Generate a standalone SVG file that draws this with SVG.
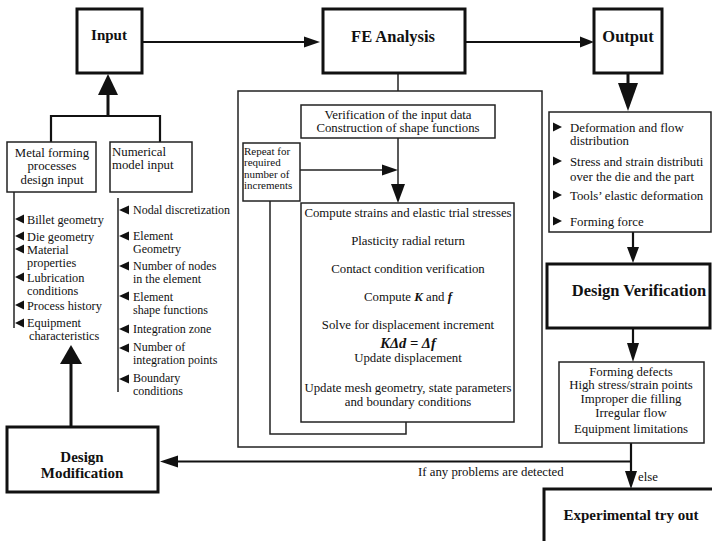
<svg xmlns="http://www.w3.org/2000/svg" width="712" height="541" viewBox="0 0 712 541">
<style>
text{font-family:"Liberation Serif","Times New Roman",serif;font-size:12.8px;fill:#111}
.t{font-weight:bold;font-size:15px}
.c{text-anchor:middle}
.bold{fill:#fff;stroke:#111;stroke-width:3}
.box{fill:#fff;stroke:#222;stroke-width:1.5}
.ln{fill:none;stroke:#222;stroke-width:1.5}
.lt{fill:none;stroke:#111;stroke-width:2.2}
.lb{fill:none;stroke:#111;stroke-width:3}
.ah{fill:#111;stroke:none}
.sm{font-size:11px}
.li{font-size:12.3px}
.nl{font-size:12px}
.bi{font-weight:bold;font-style:italic}
</style>
<rect width="712" height="541" fill="#fff"/>

<g id="connectors">
  <line class="lt" x1="142" y1="42" x2="306" y2="42"/>
  <polygon class="ah" points="320,42 304,36.5 304,47.5"/>
  <line class="lt" x1="465" y1="42" x2="582" y2="42"/>
  <polygon class="ah" points="594,42 580,36.5 580,47.5"/>
  <polyline class="lt" points="51,142 51,116 160,116 160,142"/>
  <line class="lb" x1="108" y1="116" x2="108" y2="92"/>
  <polygon class="ah" points="108,74 98,95 118,95"/>
  <line class="lb" x1="628" y1="73" x2="628" y2="86"/>
  <polygon class="ah" points="628,111 618,83 638,83"/>
  <line class="lt" x1="633" y1="232" x2="633" y2="249"/>
  <polygon class="ah" points="633,263 627,247 639,247"/>
  <line class="lt" x1="633" y1="328" x2="633" y2="345"/>
  <polygon class="ah" points="633,362 627,343 639,343"/>
  <line class="lt" x1="631" y1="443" x2="631" y2="473"/>
  <polygon class="ah" points="631,489 625,471 637,471"/>
  <line class="lt" x1="631" y1="461.5" x2="176" y2="461.5"/>
  <polygon class="ah" points="160,461.5 178,455.5 178,467.5"/>
  <line class="lb" x1="71" y1="427" x2="71" y2="362"/>
  <polygon class="ah" points="71,345 60,364 82,364"/>
  <line class="ln" x1="398" y1="74" x2="398" y2="91"/>
  <line class="ln" x1="398" y1="138" x2="398" y2="186"/>
  <polygon class="ah" points="398,203 391,184 405,184"/>
  <line class="ln" x1="300" y1="170" x2="384" y2="170"/>
  <polygon class="ah" points="398,170 382,164.5 382,175.5"/>
  <polyline class="ln" points="270,201 270,434 406,434 406,422"/>
  <line class="ln" x1="14" y1="192" x2="14" y2="328"/>
  <line class="ln" x1="118" y1="198" x2="118" y2="392"/>
</g>

<g id="input">
  <rect class="bold" x="77" y="9" width="65" height="64"/>
  <text class="t c" x="109" y="40">Input</text>
</g>

<g id="fe-analysis">
  <rect class="bold" x="323" y="9" width="142" height="64"/>
  <text class="t c" x="393" y="42" style="font-size:16.5px">FE Analysis</text>
</g>

<g id="output">
  <rect class="bold" x="594" y="9" width="68" height="64"/>
  <text class="t c" x="628" y="42" style="font-size:16.5px">Output</text>
</g>

<g id="metal-forming">
  <rect class="box" x="7" y="142" width="89" height="50"/>
  <text class="c" x="52" y="157">Metal forming</text>
  <text class="c" x="52" y="170">processes</text>
  <text class="c" x="52" y="184">design input</text>
</g>

<g id="numerical-model">
  <rect class="box" x="110" y="142" width="82" height="50"/>
  <text x="112" y="156">Numerical</text>
  <text x="112" y="169">model input</text>
</g>

<g id="metal-forming-list" class="li">
  <polygon class="ah" points="15,219 24,214.5 24,223.5"/>
  <text class="li" x="27" y="224">Billet geometry</text>
  <polygon class="ah" points="15,236 24,231.5 24,240.5"/>
  <text class="li" x="27" y="241">Die geometry</text>
  <polygon class="ah" points="15,249 24,244.5 24,253.5"/>
  <text class="li" x="27" y="254">Material</text>
  <text class="li" x="27" y="267">properties</text>
  <polygon class="ah" points="15,277 24,272.5 24,281.5"/>
  <text class="li" x="27" y="282">Lubrication</text>
  <text class="li" x="27" y="295">conditions</text>
  <polygon class="ah" points="15,305 24,300.5 24,309.5"/>
  <text class="li" x="27" y="310">Process history</text>
  <polygon class="ah" points="15,323 24,318.5 24,327.5"/>
  <text class="li" x="27" y="327">Equipment</text>
  <text class="li" x="29" y="340">characteristics</text>
</g>

<g id="numerical-list">
  <polygon class="ah" points="119,210 129,205.5 129,214.5"/>
  <text class="nl" x="133" y="214">Nodal discretization</text>
  <polygon class="ah" points="119,236 129,231.5 129,240.5"/>
  <text class="nl" x="133" y="240">Element</text>
  <text class="nl" x="133" y="252.5">Geometry</text>
  <polygon class="ah" points="119,266 129,261.5 129,270.5"/>
  <text class="nl" x="133" y="270">Number of nodes</text>
  <text class="nl" x="133" y="282.5">in the element</text>
  <polygon class="ah" points="119,296 129,291.5 129,300.5"/>
  <text class="nl" x="133" y="300.5">Element</text>
  <text class="nl" x="133" y="313.5">shape functions</text>
  <polygon class="ah" points="119,329 129,324.5 129,333.5"/>
  <text class="nl" x="133" y="333">Integration zone</text>
  <polygon class="ah" points="119,348 129,343.5 129,352.5"/>
  <text class="nl" x="133" y="351">Number of</text>
  <text class="nl" x="133" y="364">integration points</text>
  <polygon class="ah" points="119,379 129,374.5 129,383.5"/>
  <text class="nl" x="133" y="382">Boundary</text>
  <text class="nl" x="133" y="394.5">conditions</text>
</g>

<g id="fe-outer">
  <rect class="ln" x="238" y="91" width="304" height="356"/>
</g>

<g id="verification">
  <rect class="box" x="301" y="105" width="194" height="33"/>
  <text class="c" x="398" y="119">Verification of the input data</text>
  <text class="c" x="398" y="132">Construction of shape functions</text>
</g>

<g id="repeat">
  <rect class="box" x="243" y="143" width="57" height="58"/>
  <text class="sm" x="244" y="155">Repeat for</text>
  <text class="sm" x="244" y="166.3">required</text>
  <text class="sm" x="244" y="177.6">number of</text>
  <text class="sm" x="244" y="189">increments</text>
</g>

<g id="increment-loop">
  <rect class="box" x="301" y="203" width="213" height="219"/>
  <text class="c" x="408" y="217">Compute strains and elastic trial stresses</text>
  <text class="c" x="408" y="245">Plasticity radial return</text>
  <text class="c" x="408" y="273">Contact condition verification</text>
  <text class="c" x="408" y="301">Compute <tspan class="bi">K</tspan> and <tspan class="bi">f</tspan></text>
  <text class="c" x="408" y="329">Solve for displacement increment</text>
  <text class="c bi" x="408" y="348" style="font-size:14.5px">KΔd = Δf</text>
  <text class="c" x="408" y="362">Update displacement</text>
  <text class="c" x="408" y="392">Update mesh geometry, state parameters</text>
  <text class="c" x="408" y="406">and boundary conditions</text>
</g>

<g id="output-list">
  <rect class="box" x="549" y="112" width="162" height="120"/>
  <polygon class="ah" points="562,127 553,122.5 553,131.5"/>
  <text x="570" y="132">Deformation and  flow</text>
  <text x="570" y="145">distribution</text>
  <polygon class="ah" points="562,161 553,156.5 553,165.5"/>
  <text x="570" y="166">Stress and strain distributi</text>
  <text x="570" y="181">over the die and the part</text>
  <polygon class="ah" points="562,195 553,190.5 553,199.5"/>
  <text x="570" y="200">Tools’ elastic deformation</text>
  <polygon class="ah" points="562,221 553,216.5 553,225.5"/>
  <text x="570" y="226">Forming force</text>
</g>

<g id="design-verification">
  <rect class="bold" x="547" y="264" width="163" height="64"/>
  <text class="t c" x="639" y="296" style="font-size:16.5px">Design Verification</text>
</g>

<g id="problems">
  <rect class="box" x="559" y="362" width="145" height="81"/>
  <text class="c" x="631" y="376">Forming defects</text>
  <text class="c" x="631" y="389">High stress/strain points</text>
  <text class="c" x="631" y="403">Improper die filling</text>
  <text class="c" x="631" y="417">Irregular flow</text>
  <text class="c" x="631" y="433">Equipment limitations</text>
</g>

<g id="design-modification">
  <rect class="bold" x="7" y="427" width="151" height="65"/>
  <text class="t c" x="82" y="462">Design</text>
  <text class="t c" x="82" y="478">Modification</text>
</g>

<g id="experimental">
  <rect class="bold" x="544" y="489" width="180" height="70"/>
  <text class="t c" x="631" y="520">Experimental try out</text>
</g>

<g id="labels">
  <text x="418" y="476">If any problems are detected</text>
  <text x="638" y="481">else</text>
</g>
</svg>
